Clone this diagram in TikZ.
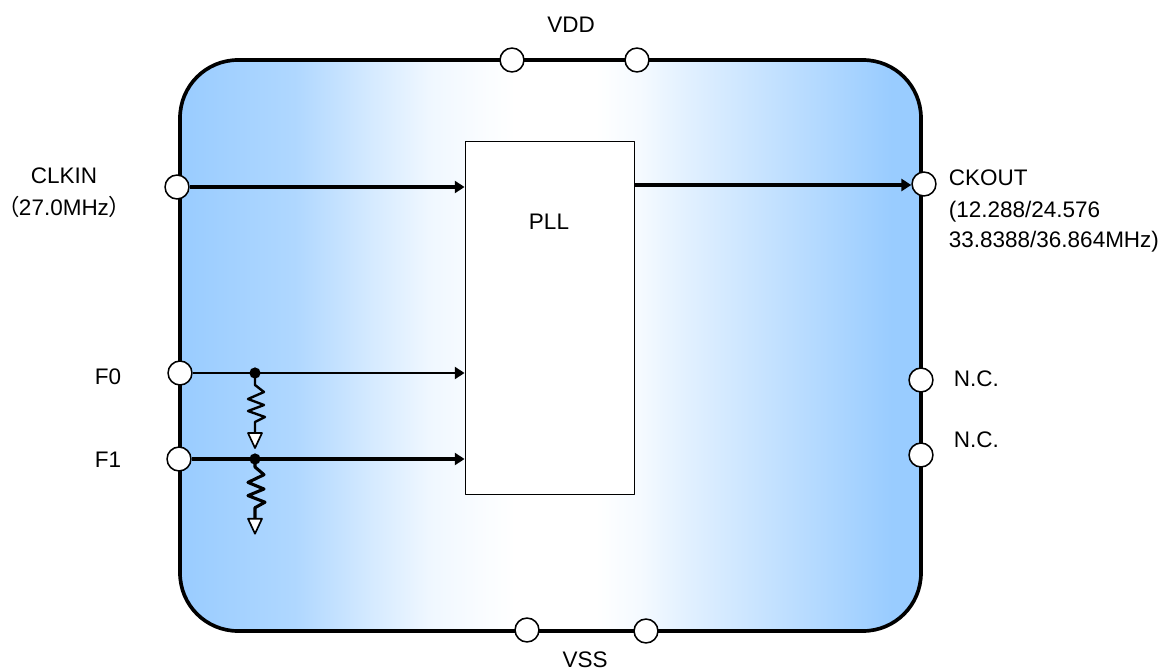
\documentclass[tikz,border=0pt]{standalone}
\usepackage{fontspec}
\setmainfont{Liberation Sans}
\newfontfamily\cjk[RawFeature={+palt}]{Noto Sans CJK JP}
\usetikzlibrary{arrows.meta,calc}
\definecolor{chipblue}{HTML}{99CCFF}
\pgfdeclarehorizontalshading{chipshade}{100bp}{
  color(0bp)=(chipblue); color(25bp)=(chipblue); color(32.8bp)=(chipblue!78!white); color(37.8bp)=(chipblue!42!white);
  color(41.9bp)=(chipblue!15!white); color(45.2bp)=(chipblue!6!white); color(47.6bp)=(white); color(53bp)=(white);
  color(56bp)=(chipblue!10!white); color(59.4bp)=(chipblue!30!white); color(66.2bp)=(chipblue!65!white); color(73bp)=(chipblue); color(100bp)=(chipblue)}
\tikzset{
  padnode/.style={circle, draw, fill=white, line width=1.1pt, minimum size=17pt, inner sep=0pt},
  txt/.style={inner sep=0pt, font=\fontsize{16}{22}\selectfont},
  joint/.style={circle, fill=black, inner sep=0pt, minimum size=8pt},
  sig/.style={-{Triangle[length=7pt,width=8.5pt]}},
}

\begin{document}
\begin{tikzpicture}[line width=1.3pt, line join=round, >=Stealth, x=0.25mm, y=-0.25mm]
  \useasboundingbox (0,0) rectangle (1168,672);
  \draw[line width=2.6pt, rounded corners=14.5mm, shading=chipshade] (180,60) rectangle (921,631);
  \node[draw, fill=white, line width=1pt, minimum width=120.5pt, minimum height=250.9pt, inner sep=0pt] (pll) at (550,318) {};
  \node[txt] (plllabel) at (549,222) {PLL};
  % pads
  \foreach \name/\x/\y in {vdda/512/60, vddb/637/60, clkin/177/187, fzero/180/373, fone/179/459, ckout/924/184, nca/921/380, ncb/921/455, vssa/527/630, vssb/646/631} {
    \node[padnode] (\name) at (\x,\y) {};
  }
  % signals
  \draw[sig, line width=2.6pt] (clkin.east) -- (clkin.east -| pll.west);
  \draw[sig, line width=1.7pt] (fzero.east) -- (fzero.east -| pll.west);
  \draw[sig, line width=3.3pt] (fone.east) -- (fone.east -| pll.west);
  \coordinate (ckstart) at ($(pll.east |- ckout)+(0,1)$);
  \coordinate (ckend) at ($(ckout.west)+(0,1)$);
  \draw[sig, line width=3.2pt] (ckstart) -- (ckend);
  % pull-downs
  \foreach \name/\y/\gap/\h/\lw in {dotzero/373/12/1/1.7pt, dotone/459/8/1.1/2.2pt} {
    \node[joint] (\name) at (255,\y) {};
    \draw[line width=\lw] (\name.center) -- ++(0,\gap) -- ++(9,7*\h) -- ++(-16,7*\h) -- ++(16,6*\h) -- ++(-16,6*\h) -- ++(17,6*\h) -- ++(-10,5*\h) -- ++(0,11) coordinate (\name top);
    \draw[line width=1.2pt, fill=white] (\name top) -- ++(-7,0) -- ++(7,15) -- ++(7,-15) -- cycle;
  }
  % labels
  \node[txt] (vddlabel) at (571,25) {VDD};
  \node[txt] (vsslabel) at (585,660) {VSS};
  \node[txt] (clkinlabel) at (64,176) {CLKIN};
  \node[txt] (clkinfreq) at (64,207) {{\cjk（}27.0MHz{\cjk）}};
  \node[txt, anchor=west] (fzerolabel) at (94,377) {F0};
  \node[txt, anchor=west] (fonelabel) at (94,460) {F1};
  \node[txt, anchor=west] (cklabel) at (948,178) {CKOUT};
  \node[txt, anchor=west] (ckfreqa) at (948,212) {(12.288/24.576};
  \node[txt, anchor=west] (ckfreqb) at (948,242) {33.8388/36.864MHz)};
  \node[txt, anchor=west] (ncalabel) at (953,379) {N.C.};
  \node[txt, anchor=west] (ncblabel) at (953,440) {N.C.};
\end{tikzpicture}
\end{document}
